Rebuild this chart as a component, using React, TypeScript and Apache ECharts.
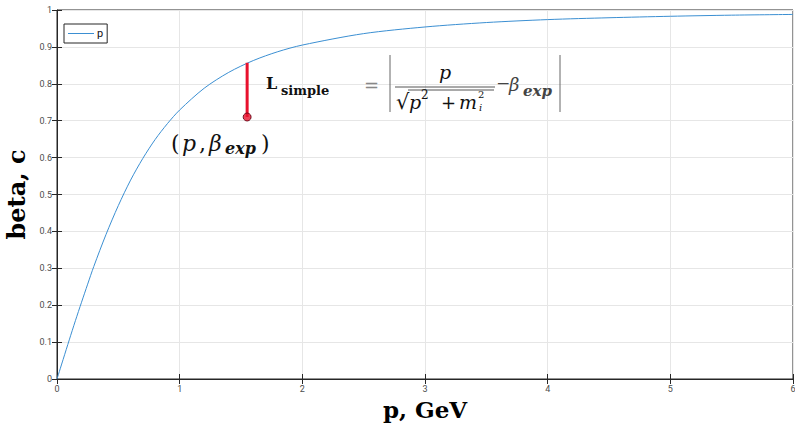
import React, { useEffect, useRef } from "react";
import * as echarts from "echarts";

const momentum = [0, 0.05, 0.1, 0.15, 0.2, 0.25, 0.3, 0.4, 0.5, 0.6, 0.7, 0.8, 0.9, 1.0, 1.2, 1.4, 1.6, 1.8, 2.0, 2.5, 3.0, 3.5, 4.0, 4.5, 5.0, 5.5, 6.0];
const beta = [0, 0.053, 0.106, 0.158, 0.208, 0.257, 0.305, 0.392, 0.470, 0.539, 0.598, 0.649, 0.692, 0.729, 0.788, 0.831, 0.863, 0.887, 0.905, 0.936, 0.954, 0.966, 0.974, 0.979, 0.983, 0.986, 0.988];
const markP = [1.55, 1.55];
const markBeta = [0.857, 0.71];
const seriesName = "p";

const SERIF = '"DejaVu Serif", serif';
const MATH = '"DejaVu Serif", serif';

export default function App() {
  const ref = useRef<HTMLDivElement>(null);
  useEffect(() => {
    if (!ref.current) return;
    const chart = echarts.init(ref.current, undefined, { renderer: "svg" });
    const axisColor = "#262626";
    const tickLabel = { color: "#4d4d4d", fontSize: 9, fontFamily: "Roboto, sans-serif" };
    const t = (x: number, y: number, text: string, font: string, extra: any = {}) => ({
      type: "text",
      x,
      y,
      style: { text, font, fill: "#111", textVerticalAlign: "middle", ...extra },
      z: 100,
    });
    chart.setOption({
      animation: false,
      backgroundColor: "#fff",
      grid: {
        left: 57,
        right: 2,
        top: 10,
        bottom: 44,
        outerBoundsMode: "none",
        containLabel: false,
        show: true,
        borderColor: axisColor,
        borderWidth: 1,
        backgroundColor: "transparent",
      },
      legend: {
        left: 64,
        top: 24,
        orient: "vertical",
        borderColor: axisColor,
        borderWidth: 1,
        borderRadius: 0,
        padding: [4, 4, 4, 4],
        itemWidth: 26,
        itemHeight: 10,
        backgroundColor: "#fff",
        textStyle: { fontSize: 11, color: "#111", fontFamily: "Roboto, sans-serif", padding: [0, 0, 0, -2] },
        data: [{ name: seriesName, icon: "path://M0,5 L26,5 L26,6 L0,6 Z" }],
      },
      xAxis: [
        {
          type: "value",
          min: 0,
          max: 6,
          interval: 1,
          name: "p, GeV",
          nameLocation: "middle",
          nameGap: 15,
          nameTextStyle: { fontFamily: SERIF, fontWeight: "bold", fontSize: 23, color: "#000" },
          axisLine: { show: true, lineStyle: { color: axisColor } },
          axisTick: { show: true, inside: true, length: 5, lineStyle: { color: axisColor } },
          axisLabel: { ...tickLabel, margin: 5 },
          splitLine: { show: true, lineStyle: { color: "#e6e6e6", width: 1 } },
        },
        {
          type: "value",
          position: "top",
          min: 0,
          max: 6,
          interval: 1,
          axisLine: { show: false },
          axisTick: { show: true, inside: true, length: 5, lineStyle: { color: axisColor } },
          axisLabel: { show: false },
          splitLine: { show: false },
        },
      ],
      yAxis: [
        {
          type: "value",
          min: 0,
          max: 1,
          interval: 0.1,
          name: "beta, c",
          nameLocation: "middle",
          nameGap: 22,
          nameTextStyle: { fontFamily: SERIF, fontWeight: "bold", fontSize: 24, color: "#000" },
          axisLine: { show: true, lineStyle: { color: axisColor } },
          axisTick: { show: true, inside: true, length: 5, lineStyle: { color: axisColor } },
          axisLabel: { ...tickLabel, margin: 5 },
          splitLine: { show: true, lineStyle: { color: "#e6e6e6", width: 1 } },
        },
        {
          type: "value",
          position: "right",
          min: 0,
          max: 1,
          interval: 0.1,
          axisLine: { show: false },
          axisTick: { show: true, inside: true, length: 5, lineStyle: { color: axisColor } },
          axisLabel: { show: false },
          splitLine: { show: false },
        },
      ],
      series: [
        {
          name: seriesName,
          type: "line",
          data: momentum.map((p, i) => [p, beta[i]]),
          smooth: 0.3,
          symbol: "none",
          lineStyle: { color: "#3b8fd2", width: 1 },
          itemStyle: { color: "#3b8fd2" },
        },
        {
          name: "Lsimple",
          type: "line",
          data: markP.map((p, i) => [p, markBeta[i]]),
          symbol: "none",
          lineStyle: { color: "#e8112d", width: 3 },
          z: 5,
        },
        {
          name: "exp",
          type: "scatter",
          data: [[markP[1], markBeta[1]]],
          symbolSize: 8,
          itemStyle: { color: "#e8112d", borderColor: "#5a0010", borderWidth: 1 },
          z: 6,
        },
      ],
      graphic: [
        // (p, beta_exp)
        t(171, 143, "(", "22px " + MATH),
        t(182, 143, "p", "italic 22px " + MATH),
        t(199, 143, ",", "22px " + MATH),
        t(209, 143, "β", "italic 22px " + MATH),
        t(225, 148, "exp", "italic bold 16px " + MATH),
        t(261, 143, ")", "22px " + MATH),
        // L_simple
        t(266, 83, "L", "bold 16px " + SERIF),
        t(281, 90, "simple", "bold 13px " + SERIF),
        // = |p / sqrt(p^2+m_i^2) - beta_exp|
        t(364, 85, "=", "18px " + MATH, { fill: "#888" }),
        { type: "line", shape: { x1: 390, y1: 55, x2: 390, y2: 112 }, style: { stroke: "#666", lineWidth: 1 }, z: 100 },
        { type: "line", shape: { x1: 560, y1: 55, x2: 560, y2: 112 }, style: { stroke: "#666", lineWidth: 1 }, z: 100 },
        t(445, 72, "p", "italic 19px " + MATH, { textAlign: "center" }),
        { type: "line", shape: { x1: 395, y1: 87, x2: 495, y2: 87 }, style: { stroke: "#555", lineWidth: 1 }, z: 100 },
        t(396, 102, "√", "21px " + MATH),
        { type: "line", shape: { x1: 408, y1: 90, x2: 494, y2: 90 }, style: { stroke: "#555", lineWidth: 1 }, z: 100 },
        t(409, 102, "p", "italic 19px " + MATH),
        t(421, 95, "2", "12px " + MATH),
        t(441, 102, "+", "18px " + MATH),
        t(459, 102, "m", "italic 19px " + MATH),
        t(478, 94, "2", "10px " + MATH),
        t(479, 107, "i", "italic 10px " + MATH),
        t(496, 83, "−", "17px " + MATH, { fill: "#444" }),
        t(509, 84, "β", "italic 18px " + MATH, { fill: "#444" }),
        t(523, 91, "exp", "italic bold 15px " + MATH, { fill: "#444" }),
      ],
    });
    return () => chart.dispose();
  }, []);
  return <div ref={ref} style={{ width: 795, height: 423, position: "absolute", left: 0, top: 0 }} />;
}
